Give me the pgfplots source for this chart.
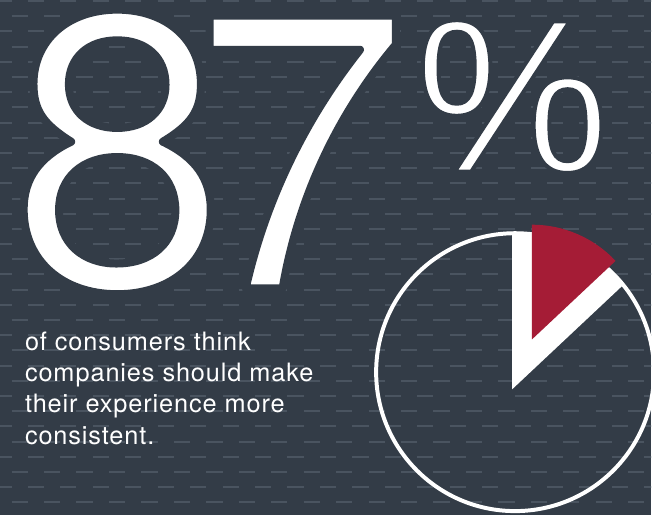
\documentclass[border=0pt]{standalone}
\usepackage{fontspec}
\setmainfont{TeX Gyre Heros}
\newfontfamily\bigfont{TeX Gyre Heros}
\newfontfamily\pctfont{Liberation Sans}
\newfontfamily\bodyfont[LetterSpace=3.5]{TeX Gyre Heros}
\usepackage{pgfplots}
\pgfplotsset{compat=1.18}
\definecolor{bg}{HTML}{333C47}
\definecolor{dashc}{HTML}{4A5460}
\definecolor{slicered}{HTML}{A51C36}
% share of the exploded slice (100 - 87)
\pgfmathsetmacro{\share}{13}
\pgfmathsetmacro{\endang}{90-3.6*\share}
\newcommand{\thinstart}[1]{\special{pdf:literal direct 2 Tr #1 w 1 j 0.2 0.235 0.278 RG}}
\newcommand{\thinend}{\special{pdf:literal direct 0 Tr 0.4 w}}
\begin{document}
\begin{tikzpicture}
% background with dashed rows
\fill[bg] (0,0) rectangle (656pt,519pt);
\begin{scope}
\clip (0,0) rectangle (656pt,519pt);
\foreach \k in {0,...,34}{
  \pgfmathsetmacro{\yy}{519-1.0-15.31*\k}
  \pgfmathsetmacro{\xs}{isodd(\k) ? 11.65 : -4.7}
  \draw[dashc, line width=2pt, dash pattern=on 16.35pt off 16.35pt] (\xs pt,\yy pt) -- (680pt,\yy pt);
}
\end{scope}
\begin{axis}[
  at={(0,0)}, anchor=south west,
  width=656pt, height=519pt, scale only axis,
  xmin=0, xmax=656, ymin=0, ymax=519,
  hide axis, clip=false]
% white gap left by the exploded slice
\begin{scope}
\clip (axis cs:519,144) circle[radius=140pt];
\fill[white] (axis cs:516,126.7) -- +(90:220pt) -- +(\endang:220pt) -- cycle;
\end{scope}
% pie outline (87 %)
\draw[white, line width=4pt] (axis cs:519,144) circle[radius=140pt];
% exploded 13 % slice
\fill[slicered] (axis cs:536,177) -- ++(90:115.6pt) arc[start angle=90, end angle=\endang, radius=115.6pt] -- cycle;
\end{axis}
% texts
\node[anchor=base west, inner sep=0pt, text=white, font=\bigfont\fontsize{396}{396}\selectfont] at (9pt,228.5pt) {\thinstart{8}8\thinend};
\node[anchor=base west, inner sep=0pt, text=white, font=\bigfont\fontsize{396}{396}\selectfont] at (192.7pt,228.5pt) {\thinstart{8}7\thinend};
\node[anchor=base west, inner sep=0pt, text=white, font=\pctfont\fontsize{220}{220}\selectfont] at (418pt,346pt) {\thinstart{4}\%\thinend};
\node[anchor=base west, inner sep=0pt, text=white, font=\bodyfont\fontsize{25.5}{30}\selectfont] at (25pt,165.7pt) {of consumers think};
\node[anchor=base west, inner sep=0pt, text=white, font=\bodyfont\fontsize{25.5}{30}\selectfont] at (25pt,134.7pt) {companies should make};
\node[anchor=base west, inner sep=0pt, text=white, font=\bodyfont\fontsize{25.5}{30}\selectfont] at (25pt,103pt) {their experience more};
\node[anchor=base west, inner sep=0pt, text=white, font=\bodyfont\fontsize{25.5}{30}\selectfont] at (25pt,70.7pt) {consistent.};
\end{tikzpicture}
\end{document}
